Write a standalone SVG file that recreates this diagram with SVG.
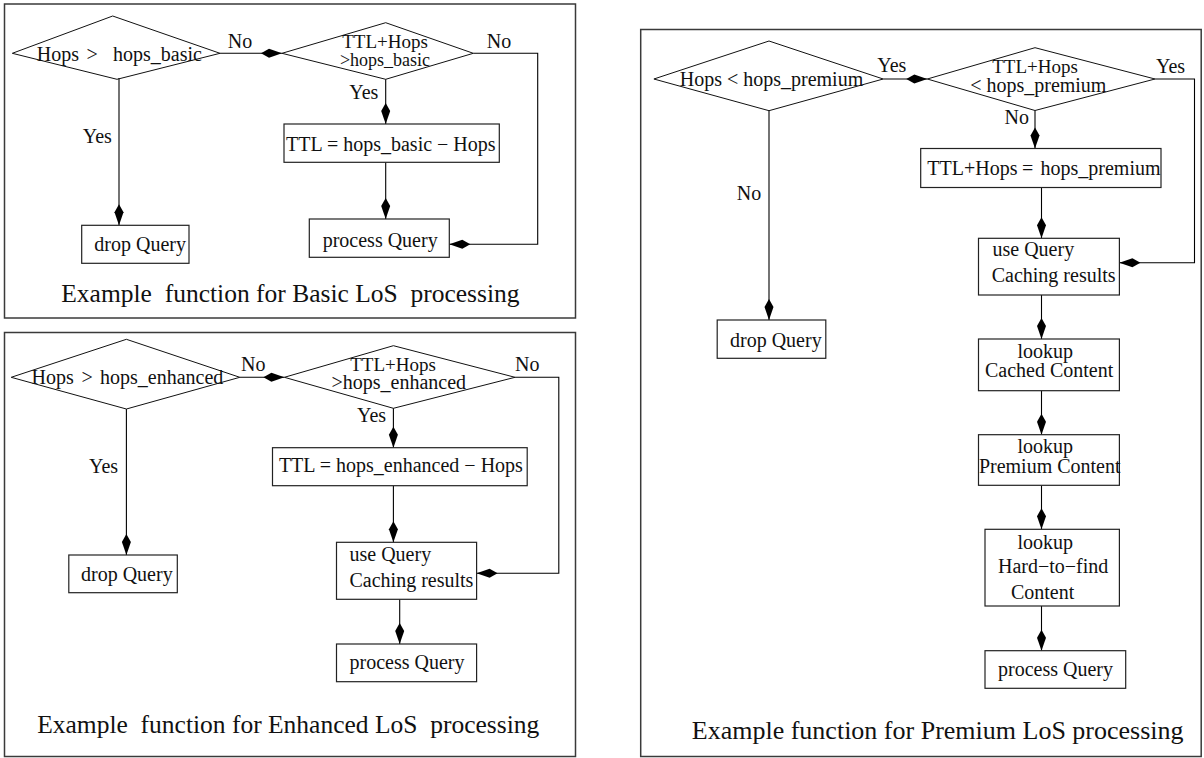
<svg xmlns="http://www.w3.org/2000/svg" width="1204" height="758" viewBox="0 0 1204 758">
<style>
.frame{fill:none;stroke:#3a3a3a;stroke-width:1.5}
.box{fill:#fff;stroke:#222;stroke-width:1.2}
.dia{fill:none;stroke:#111;stroke-width:1}
.con{fill:none;stroke:#000;stroke-width:1.1}
.arr{marker-end:url(#ah)}
text{font-family:"Liberation Serif","Times New Roman",serif;font-size:20px;fill:#111}
.cap{font-size:25.5px}
.capP{font-size:26px}
.mid{text-anchor:middle}
.s18{font-size:18px}
.s19{font-size:19px}
</style>
<defs>
<marker id="ah" viewBox="-22 -6 24 12" refX="0" refY="0" markerWidth="24" markerHeight="12" markerUnits="userSpaceOnUse" orient="auto">
<path d="M0,0 L-13,-4.5 L-21,0 L-13,4.5 Z" fill="#000"/>
</marker>
</defs>
<rect x="0" y="0" width="1204" height="758" fill="#fff"/>

<!-- Frames -->
<g id="frames">
<rect class="frame" x="4.5" y="4" width="571" height="314"/>
<rect class="frame" x="4.5" y="332.5" width="571" height="424"/>
<rect class="frame" x="640.7" y="29.5" width="560.5" height="727"/>
</g>

<!-- Connectors -->
<g id="connectors">
<!-- Basic -->
<path class="con arr" d="M220,53.3 H282"/>
<path class="con arr" d="M385.7,79.3 V124"/>
<path class="con arr" d="M385.7,162.3 V219"/>
<path class="con arr" d="M473.3,53.3 H537.7 V244.3 H449.3"/>
<path class="con arr" d="M119,78 V225.3"/>
<!-- Enhanced -->
<path class="con arr" d="M239.8,377.3 H284.4"/>
<path class="con arr" d="M393.4,408.3 V447.7"/>
<path class="con arr" d="M393.4,485.7 V542.3"/>
<path class="con arr" d="M515,377.3 H558.8 V573.3 H476.6"/>
<path class="con arr" d="M399.7,599.3 V644"/>
<path class="con arr" d="M126.4,409 V555"/>
<!-- Premium -->
<path class="con arr" d="M883.2,79 H927.3"/>
<path class="con arr" d="M1035,110.5 V148.5"/>
<path class="con arr" d="M1041.5,187.5 V238.3"/>
<path class="con arr" d="M1155,79 H1194.5 V262.7 H1119.4"/>
<path class="con arr" d="M1041.5,295 V339"/>
<path class="con arr" d="M1041.5,390.7 V434.7"/>
<path class="con arr" d="M1041.5,485.3 V529.3"/>
<path class="con arr" d="M1041.5,606 V650.7"/>
<path class="con arr" d="M769,110.7 V320"/>
</g>

<!-- Edge labels -->
<g id="labels">
<text x="227.7" y="47.7">No</text>
<text x="486.7" y="48">No</text>
<text x="349.3" y="99">Yes</text>
<text x="82.7" y="142.7">Yes</text>

<text x="241" y="371">No</text>
<text x="515" y="371">No</text>
<text x="357" y="421.7">Yes</text>
<text x="89" y="472.7">Yes</text>

<text x="877.3" y="71.7">Yes</text>
<text x="1156" y="72.5">Yes</text>
<text x="1004.6" y="124">No</text>
<text x="736.7" y="200">No</text>
</g>

<!-- ===== Basic LoS ===== -->
<g id="b_dec1">
<polygon class="dia" points="12.3,53.3 112.7,16 220,53.3 117,79.3"/>
<text x="36.7" y="61">Hops<tspan x="86.5">&gt;</tspan><tspan x="113">hops_basic</tspan></text>
</g>
<g id="b_dec2">
<polygon class="dia" points="282,53.3 385.7,22.7 473.3,53.3 385.7,79.3"/>
<text class="mid s19" x="385" y="48.3">TTL+Hops</text>
<text class="mid s18" x="385" y="65.7">&gt;hops_basic</text>
</g>
<g id="b_ttl">
<rect class="box" x="284" y="124" width="215.3" height="38.3"/>
<text x="286" y="150.7">TTL = hops_basic − Hops</text>
</g>
<g id="b_process">
<rect class="box" x="309.3" y="219" width="140" height="38.3"/>
<text x="322.7" y="246.7">process Query</text>
</g>
<g id="b_drop">
<rect class="box" x="81.7" y="225.3" width="107.3" height="38"/>
<text x="94.3" y="250.7">drop Query</text>
</g>
<text class="cap" x="61.3" y="302" xml:space="preserve">Example  function for Basic LoS  processing</text>

<!-- ===== Enhanced LoS ===== -->
<g id="e_dec1">
<polygon class="dia" points="11.2,377.3 126.4,339.3 239.8,377.3 126.4,409"/>
<text x="31.6" y="384.3">Hops<tspan x="81.5">&gt;</tspan><tspan x="100">hops_enhanced</tspan></text>
</g>
<g id="e_dec2">
<polygon class="dia" points="284.4,377.3 393.4,345.7 515,377.3 393.4,408.3"/>
<text class="mid s19" x="393" y="370.7">TTL+Hops</text>
<text class="mid" x="398.8" y="389">&gt;hops_enhanced</text>
</g>
<g id="e_ttl">
<rect class="box" x="272.5" y="447.7" width="254.7" height="38"/>
<text x="278.9" y="472.3">TTL = hops_enhanced − Hops</text>
</g>
<g id="e_cache">
<rect class="box" x="336.5" y="542.3" width="140.1" height="57"/>
<text x="349.5" y="560.7">use Query</text>
<text x="349.5" y="586.7">Caching results</text>
</g>
<g id="e_process">
<rect class="box" x="336.5" y="644" width="140.1" height="37.7"/>
<text x="349.5" y="669">process Query</text>
</g>
<g id="e_drop">
<rect class="box" x="68.8" y="555" width="108.5" height="37.7"/>
<text x="81" y="580.7">drop Query</text>
</g>
<text class="cap" x="37.2" y="733" xml:space="preserve">Example  function for Enhanced LoS  processing</text>

<!-- ===== Premium LoS ===== -->
<g id="p_dec1">
<polygon class="dia" points="653.9,79 769,41 883.2,79 769,110.7"/>
<text x="679.7" y="86">Hops &lt; hops_premium</text>
</g>
<g id="p_dec2">
<polygon class="dia" points="927.3,79 1035,47.7 1155,79 1035,110.5"/>
<text class="mid s19" x="1035" y="73.3">TTL+Hops</text>
<text class="mid" x="1038.3" y="91.7">&lt; hops_premium</text>
</g>
<g id="p_ttl">
<rect class="box" x="920.7" y="148.5" width="240.3" height="39"/>
<text x="927.3" y="175">TTL+Hops<tspan x="1022">=</tspan><tspan x="1040.5">hops_premium</tspan></text>
</g>
<g id="p_cache">
<rect class="box" x="978.5" y="238.3" width="140.9" height="56.7"/>
<text x="992.5" y="255.7">use Query</text>
<text x="991.7" y="282.3">Caching results</text>
</g>
<g id="p_cached">
<rect class="box" x="978.5" y="339" width="140.9" height="51.7"/>
<text x="1017.5" y="358.3">lookup</text>
<text x="985" y="377.3">Cached Content</text>
</g>
<g id="p_premium">
<rect class="box" x="978.5" y="434.7" width="140.9" height="50.6"/>
<text x="1017.5" y="453.3">lookup</text>
<text x="978.9" y="472.7">Premium Content</text>
</g>
<g id="p_hard">
<rect class="box" x="985" y="529.3" width="134.4" height="76.7"/>
<text x="1017.5" y="549.3">lookup</text>
<text x="998" y="573.3">Hard−to−find</text>
<text x="1010.9" y="599.3">Content</text>
</g>
<g id="p_process">
<rect class="box" x="985" y="650.7" width="140.7" height="37.6"/>
<text x="998" y="676">process Query</text>
</g>
<g id="p_drop">
<rect class="box" x="717.2" y="320" width="108.6" height="38.3"/>
<text x="730" y="346.7">drop Query</text>
</g>
<text class="capP" x="691.8" y="738.5">Example function for Premium LoS processing</text>
</svg>
